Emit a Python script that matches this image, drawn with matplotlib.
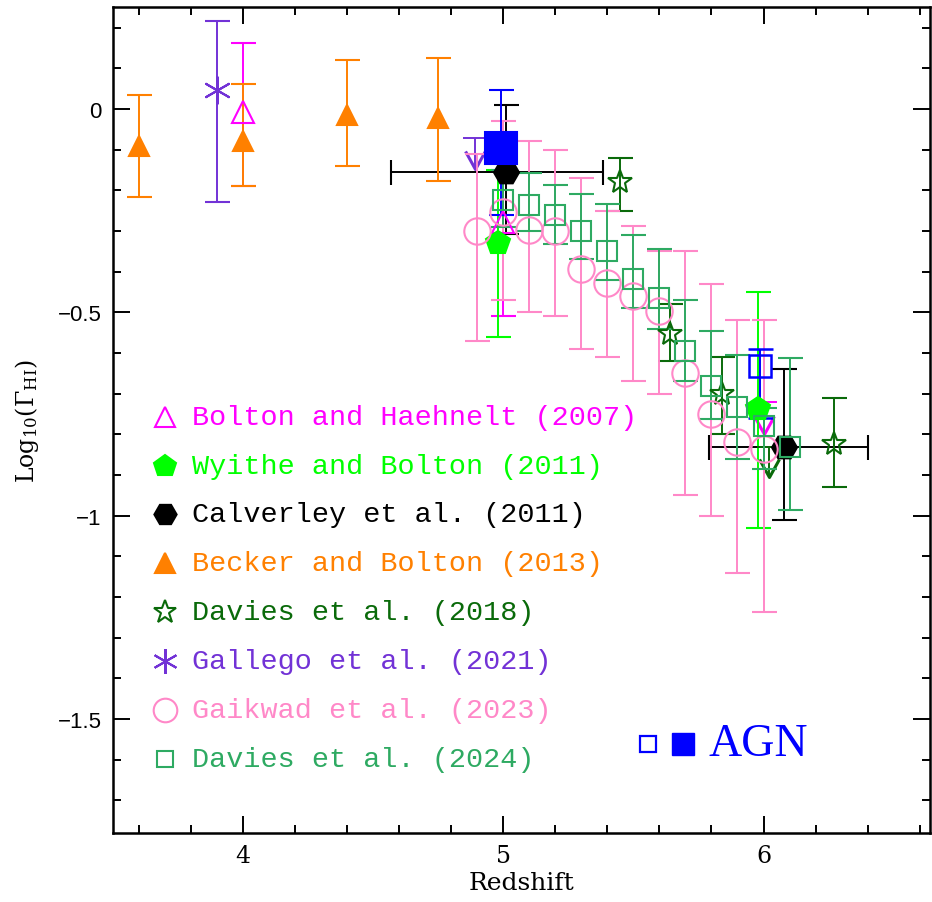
import numpy as np
import matplotlib
matplotlib.use('Agg')
import matplotlib.pyplot as plt
from matplotlib.path import Path
from matplotlib.ticker import MultipleLocator, FuncFormatter

plt.rcParams['mathtext.fontset'] = 'dejavuserif'

# Bolton and Haehnelt (2007)
bh07_z = [4.0, 5.0]
bh07_y = [-0.008, -0.278]
bh07_hi = [0.162, -0.10]
bh07_lo = [-0.19, -0.51]
bh07_lim_z = [6.0]
bh07_lim_y = [-0.72]
bh07_lim_tip = [-0.80]

# Wyithe and Bolton (2011)
wb11_z = [4.98, 5.98]
wb11_y = [-0.33, -0.737]
wb11_hi = [-0.15, -0.45]
wb11_lo = [-0.56, -1.03]

# Calverley et al. (2011)
cal11_z = [5.01, 6.08]
cal11_y = [-0.155, -0.83]
cal11_hi = [0.01, -0.64]
cal11_lo = [-0.307, -1.01]
cal11_zlo = [0.44, 0.29]
cal11_zhi = [0.375, 0.32]

# Becker and Bolton (2013)
bb13_z = [3.6, 4.0, 4.4, 4.75]
bb13_y = [-0.09, -0.078, -0.015, -0.022]
bb13_hi = [0.034, 0.061, 0.12, 0.125]
bb13_lo = [-0.216, -0.19, -0.14, -0.176]

# Davies et al. (2018)
d18_z = [5.45, 5.64, 5.84, 6.27]
d18_y = [-0.18, -0.553, -0.70, -0.823]
d18_hi = [-0.12, -0.48, -0.61, -0.71]
d18_lo = [-0.25, -0.62, -0.80, -0.93]
d18_lim_z = [6.02]
d18_lim_y = [-0.83]
d18_lim_tip = [-0.905]

# Gallego et al. (2021)
g21_z = [3.9]
g21_y = [0.047]
g21_hi = [0.217]
g21_lo = [-0.229]
g21_lim_z = [4.89]
g21_lim_y = [-0.071]
g21_lim_tip = [-0.147]

# Gaikwad et al. (2023)
g23_z = [4.9, 5.0, 5.1, 5.2, 5.3, 5.4, 5.5, 5.6, 5.7, 5.8, 5.9, 6.0]
g23_y = [-0.30, -0.253, -0.297, -0.299, -0.393, -0.428, -0.46, -0.496,
         -0.649, -0.749, -0.82, -0.837]
g23_hi = [-0.11, -0.03, -0.079, -0.10, -0.17, -0.25, -0.289, -0.35,
          -0.35, -0.43, -0.52, -0.52]
g23_lo = [-0.57, -0.47, -0.50, -0.51, -0.59, -0.609, -0.67, -0.70,
          -0.95, -1.0, -1.14, -1.236]

# Davies et al. (2024)
d24_z = [5.0, 5.1, 5.2, 5.3, 5.4, 5.5, 5.6, 5.7, 5.8, 5.9, 6.0, 6.1]
d24_y = [-0.223, -0.235, -0.262, -0.299, -0.35, -0.418, -0.464, -0.594,
         -0.68, -0.733, -0.78, -0.83]
d24_hi = [-0.149, -0.158, -0.187, -0.21, -0.233, -0.31, -0.344, -0.47,
          -0.547, -0.605, -0.735, -0.612]
d24_lo = [-0.29, -0.30, -0.332, -0.369, -0.42, -0.49, -0.54, -0.67,
          -0.762, -0.86, -0.885, -0.987]

# AGN
agn_z = [4.99, 5.985]
agn_y = [-0.096, -0.633]
agn_hi = [0.047, -0.591]
agn_lo = [-0.26, -0.76]

labels = ['Bolton and Haehnelt (2007)', 'Wyithe and Bolton (2011)',
          'Calverley et al. (2011)', 'Becker and Bolton (2013)',
          'Davies et al. (2018)', 'Gallego et al. (2021)',
          'Gaikwad et al. (2023)', 'Davies et al. (2024)']

c_bh = '#ff00ff'
c_wb = '#00ff00'
c_cal = 'black'
c_bb = '#ff8000'
c_d18 = '#0a6a0a'
c_g21 = '#7232d6'
c_g23 = '#ff88c8'
c_d24 = '#2eaa62'
c_agn = '#0000ff'

vmark = Path([(-0.55, 1), (0, 0), (0.55, 1)], [Path.MOVETO, Path.LINETO, Path.LINETO])

fig = plt.figure(figsize=(9.32, 9.03), dpi=100)
ax = fig.add_axes([0.1212, 0.0764, 0.8767, 0.9145])


def errpts(z, y, hi, lo, color, marker, ms, filled=False, zlo=None, zhi=None, mew=1.5):
    y = np.array(y)
    yerr = [y - np.array(lo), np.array(hi) - y]
    xerr = None
    if zlo is not None:
        xerr = [zlo, zhi]
    ax.errorbar(z, y, yerr=yerr, xerr=xerr, fmt='', marker=marker, ls='none', ms=ms,
                mfc=color if filled else 'none', mec=color, mew=mew,
                ecolor=color, elinewidth=1.4, capsize=9, capthick=1.4)


def uplim(z, y, tip, color):
    ax.vlines(z, tip, y, color=color, lw=1.4)
    ax.plot(z, y, ls='none', marker='_', ms=18, mew=1.4, color=color)
    ax.plot(z, tip, ls='none', marker=vmark, ms=26, mew=2.2, mfc='none', mec=color)


errpts(bh07_z, bh07_y, bh07_hi, bh07_lo, c_bh, '^', 16)
uplim(bh07_lim_z, bh07_lim_y, bh07_lim_tip, c_bh)
errpts(wb11_z, wb11_y, wb11_hi, wb11_lo, c_wb, 'p', 18, filled=True)
errpts(cal11_z, cal11_y, cal11_hi, cal11_lo, c_cal, 'H', 18, filled=True,
       zlo=cal11_zlo, zhi=cal11_zhi)
errpts(bb13_z, bb13_y, bb13_hi, bb13_lo, c_bb, '^', 15, filled=True)
errpts(d18_z, d18_y, d18_hi, d18_lo, c_d18, '*', 18)
uplim(d18_lim_z, d18_lim_y, d18_lim_tip, c_d18)
errpts(g21_z, g21_y, g21_hi, g21_lo, c_g21, (6, 2, 0), 20)
uplim(g21_lim_z, g21_lim_y, g21_lim_tip, c_g21)
errpts(g23_z, g23_y, g23_hi, g23_lo, c_g23, 'o', 19)
errpts(d24_z, d24_y, d24_hi, d24_lo, c_d24, 's', 14.5)
errpts(agn_z[:1], agn_y[:1], agn_hi[:1], agn_lo[:1], c_agn, 's', 23.5, filled=True)
errpts(agn_z[1:], agn_y[1:], agn_hi[1:], agn_lo[1:], c_agn, 's', 16, mew=1.8)

# legend, drawn by hand
leg_markers = [('^', c_bh, False, 14), ('p', c_wb, True, 16), ('H', c_cal, True, 16),
               ('^', c_bb, True, 14), ('*', c_d18, False, 17), ((6, 2, 0), c_g21, False, 18),
               ('o', c_g23, False, 17), ('s', c_d24, False, 12)]
for i, (lab, (mk, col, fill, ms)) in enumerate(zip(labels, leg_markers)):
    yy = -0.757 - 0.12 * i
    ax.plot(3.70, yy, ls='none', marker=mk, ms=ms, mew=1.5, mec=col,
            mfc=col if fill else 'none')
    ax.text(3.805, yy, lab, color=col, fontsize=20.5, family='Liberation Mono',
            va='center', ha='left')

ax.plot(5.558, -1.56, ls='none', marker='s', ms=12, mew=1.6, mec=c_agn, mfc='none')
ax.plot(5.692, -1.56, ls='none', marker='s', ms=16, mec=c_agn, mfc=c_agn)
ax.text(5.79, -1.56, 'AGN', color=c_agn, fontsize=33, family='Liberation Serif',
        va='center', ha='left')

ax.set_xlim(3.5, 6.64)
ax.set_ylim(-1.78, 0.25)
ax.xaxis.set_major_locator(MultipleLocator(1))
ax.xaxis.set_minor_locator(MultipleLocator(0.2))
ax.yaxis.set_major_locator(MultipleLocator(0.5))
ax.yaxis.set_minor_locator(MultipleLocator(0.1))
ax.yaxis.set_major_formatter(FuncFormatter(lambda v, p: f'{v:g}'.replace('-', '\u2212')))
ax.tick_params(which='both', direction='in', top=True, right=True, width=1.4)
ax.tick_params(which='major', length=12)
ax.tick_params(which='minor', length=6)
ax.tick_params(axis='x', labelsize=17, labelfontfamily='DejaVu Serif', pad=8)
ax.tick_params(axis='y', labelsize=16, labelfontfamily='Liberation Sans', pad=8)
for s in ax.spines.values():
    s.set_linewidth(1.8)

ax.set_xlabel('Redshift', fontsize=18, family='DejaVu Serif', labelpad=3)
ax.set_ylabel(r'Log$_{10}$($\Gamma_{\rm HI}$)', fontsize=17, family='DejaVu Serif',
              labelpad=12)

fig.savefig('out.png', dpi=100)
